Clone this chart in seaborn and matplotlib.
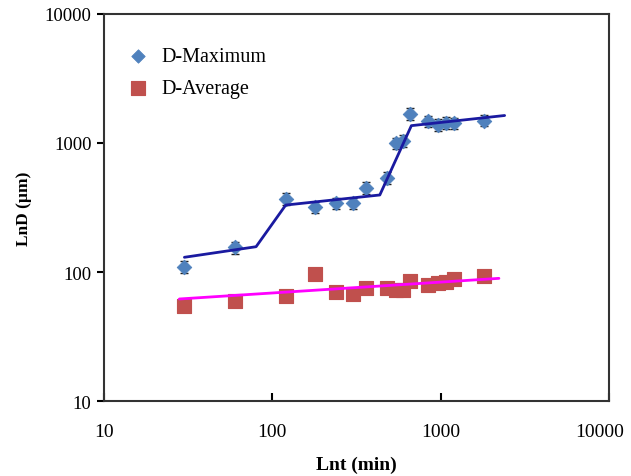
import numpy as np
import pandas as pd
import matplotlib
matplotlib.use("Agg")
import matplotlib.pyplot as plt
from matplotlib.transforms import ScaledTranslation
import seaborn as sns

# Data
time_min = [30, 60, 120, 180, 240, 300, 360, 480, 540, 600, 660, 840, 960, 1080, 1200, 1800]
d_max = [110, 155, 368, 317, 340, 340, 450, 538, 1000, 1040, 1680, 1470, 1380, 1430, 1425, 1490]
d_max_err = [12, 16, 38, 32, 35, 35, 45, 54, 100, 104, 170, 150, 140, 145, 145, 150]
d_avg = [55, 60, 65, 96, 70, 67.5, 75, 75, 73, 72, 85.7, 79, 82, 83, 88, 93.5]
d_avg_err = [3, 3, 3, 4, 3, 3, 3, 3, 3, 3, 4, 3, 3, 3, 4, 4]

# trend lines
fit_max_x = [30, 80, 120, 435, 670, 2400]
fit_max_y = [130, 157, 330, 395, 1360, 1630]
fit_avg_x = [28, 2220]
fit_avg_y = [61.8, 89.3]

sns.set_style("ticks")
plt.rcParams['font.family'] = ['Liberation Serif', 'DejaVu Serif']
plt.rcParams['text.color'] = 'black'
plt.rcParams['axes.labelcolor'] = 'black'
plt.rcParams['xtick.color'] = 'black'
plt.rcParams['ytick.color'] = 'black'

df_max = pd.DataFrame({'t': time_min, 'D': d_max})
df_avg = pd.DataFrame({'t': time_min, 'D': d_avg})

fig = plt.figure(figsize=(6.31, 4.77), dpi=100)
ax = fig.add_axes([0.165, 0.157, 0.8, 0.812])

# ---- error bars ----
ax.errorbar(time_min, d_max, yerr=d_max_err, fmt='none', ecolor='#222222',
            elinewidth=1, capsize=3, zorder=2)
ax.errorbar(time_min, d_avg, yerr=d_avg_err, fmt='none', ecolor='#222222',
            elinewidth=1, capsize=3, zorder=2)

# ---- markers ----
sns.scatterplot(data=df_max, x='t', y='D', marker='D', s=55, color='#4F81BD',
                edgecolor='#4F81BD', label='D-Maximum', ax=ax, zorder=3)
sns.scatterplot(data=df_avg, x='t', y='D', marker='s', s=105, color='#C0504D',
                edgecolor='#C0504D', label='D-Average', ax=ax, zorder=3)

# ---- trend lines ----
sns.lineplot(x=fit_max_x, y=fit_max_y, sort=False, color='#1A1AA0', linewidth=2,
             ax=ax, zorder=4)
sns.lineplot(x=fit_avg_x, y=fit_avg_y, sort=False, color='#FF00FF', linewidth=2,
             ax=ax, zorder=4)

ax.set_xscale('log')
ax.set_yscale('log')
ax.set_xlim(10, 10000)
ax.set_ylim(10, 10000)
ax.set_xticks([10, 100, 1000, 10000])
ax.set_xticklabels(['10', '100', '1000', '10000'])
ax.set_yticks([10, 100, 1000, 10000])
ax.set_yticklabels(['10', '100', '1000', '10000'])
ax.minorticks_off()
ax.tick_params(axis='x', direction='in', length=6, width=1.5, labelsize=14, pad=16)
ax.tick_params(axis='y', direction='out', length=5, width=1.5, labelsize=13.5, pad=4)

# keep the last x label inside the figure, as in the reference
last = ax.get_xticklabels()[-1]
last.set_transform(last.get_transform() + ScaledTranslation(-7 / 72, 0, fig.dpi_scale_trans))

for side in ['left', 'right', 'top', 'bottom']:
    ax.spines[side].set_visible(True)
    ax.spines[side].set_linewidth(1.5)
    ax.spines[side].set_color('#333333')

ax.set_xlabel('Lnt (min)', fontsize=14, fontweight='bold', labelpad=11)
ax.set_ylabel('LnD (µm)', fontsize=12.5, fontweight='bold', labelpad=9)

ax.legend(loc='upper left', bbox_to_anchor=(0.012, 0.935), frameon=False,
          fontsize=14.5, handletextpad=0.15, borderaxespad=0, labelspacing=0.65,
          markerscale=0.92)

fig.savefig('out.png', dpi=100)
